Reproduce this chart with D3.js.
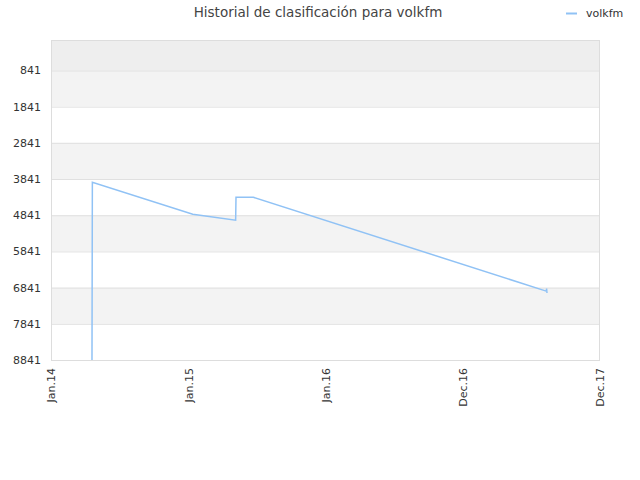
<!DOCTYPE html>
<html><head><meta charset="utf-8">
<script src="https://cdn.jsdelivr.net/npm/d3@7"></script>
<style>body{margin:0;background:#fff}text{font-family:"DejaVu Sans",sans-serif}</style>
</head><body><svg id="c" width="640" height="480"></svg>
<script>
const dates = ["2014-04-20","2014-04-21","2015-01-13","2015-05-07","2015-05-08","2015-06-23","2017-08-10","2017-08-11","2017-08-12"];
const ranks = [8841, 3931, 4813, 4979, 4344, 4344, 6938, 6870, 6990];
const yTicks = [841, 1841, 2841, 3841, 4841, 5841, 6841, 7841, 8841];
const xTickDates = ["2014-01-01","2015-01-01","2016-01-01","2016-12-31","2017-12-31"];
const xTickLabels = ["Jan.14","Jan.15","Jan.16","Dec.16","Dec.17"];
const seriesName = "volkfm";
const title = "Historial de clasificación para volkfm";

const parse = d3.utcParse("%Y-%m-%d");
const svg = d3.select("#c");
const L = 51, R = 600, T = 40, B = 360;
const x = d3.scaleUtc().domain([parse("2014-01-01"), parse("2017-12-31")]).range([L, R]);
const y = d3.scaleLinear().domain([0, 8841]).range([T, B]);

// bands
const edges = [0].concat(yTicks);
for (let i = 0; i < edges.length - 1; i++) {
  const fill = i === 0 ? "#eeeeee" : (i % 2 === 1 ? "#f3f3f3" : "#ffffff");
  svg.append("rect").attr("x", L).attr("y", y(edges[i])).attr("width", R - L)
    .attr("height", y(edges[i+1]) - y(edges[i])).attr("fill", fill);
}
// grid
svg.append("g").selectAll("line").data(yTicks).join("line")
  .attr("x1", L).attr("x2", R).attr("y1", d => y(d) + 0.5).attr("y2", d => y(d) + 0.5)
  .attr("stroke", "#e0e0e0");
// border
svg.append("rect").attr("x", L + 0.5).attr("y", T + 0.5).attr("width", R - L - 1).attr("height", B - T)
  .attr("fill", "none").attr("stroke", "#dddddd");

// y axis
const yAxis = d3.axisLeft(y).tickValues(yTicks).tickSize(0).tickPadding(10).tickFormat(d3.format("d"));
const gy = svg.append("g").attr("transform", `translate(${L},0)`).call(yAxis);
gy.select(".domain").remove();
gy.selectAll("text").attr("fill", "#333").style("font-size", "11px");

// x axis
const xAxis = d3.axisBottom(x).tickValues(xTickDates.map(parse)).tickSize(0)
  .tickFormat((d, i) => xTickLabels[i]);
const gx = svg.append("g").attr("transform", `translate(0,${B})`).call(xAxis);
gx.select(".domain").remove();
gx.selectAll("text").attr("fill", "#333").style("font-size", "11px")
  .attr("text-anchor", "end").attr("transform", "rotate(-90)")
  .attr("x", -8).attr("y", 0).attr("dy", "0.35em");

// line
const data = dates.map((d, i) => ({d: parse(d), v: ranks[i]}));
svg.append("path").datum(data)
  .attr("fill", "none").attr("stroke", "#90c2f5").attr("stroke-width", 1.5)
  .attr("d", d3.line().x(p => x(p.d)).y(p => y(p.v)));

// title
svg.append("text").attr("x", 318).attr("y", 17).attr("text-anchor", "middle")
  .attr("fill", "#444").style("font-size", "13.5px").text(title);
// legend
svg.append("line").attr("x1", 566).attr("x2", 577).attr("y1", 13.5).attr("y2", 13.5)
  .attr("stroke", "#90c2f5").attr("stroke-width", 2);
svg.append("text").attr("x", 586).attr("y", 17).attr("fill", "#333")
  .style("font-size", "11px").text(seriesName);
</script></body></html>
